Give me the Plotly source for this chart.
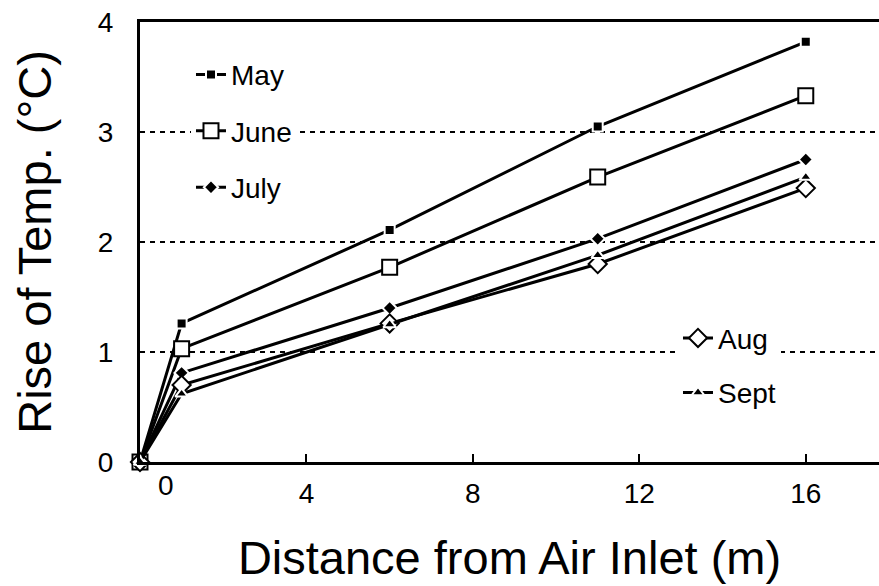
import plotly.graph_objects as go

distance = [0, 1, 6, 11, 16]
may = [0, 1.26, 2.11, 3.05, 3.82]
june = [0, 1.03, 1.77, 2.59, 3.33]
july = [0, 0.81, 1.40, 2.03, 2.75]
aug = [0, 0.70, 1.26, 1.80, 2.49]
sept = [0, 0.62, 1.25, 1.88, 2.59]

x_ticks = [4, 8, 12, 16]
y_ticks = [0, 1, 2, 3, 4]

series = [
    ("May", may, "square", "black", 10, "legend"),
    ("June", june, "square", "white", 15, "legend"),
    ("July", july, "diamond", "black", 11, "legend"),
    ("Aug", aug, "diamond", "white", 14, "legend2"),
    ("Sept", sept, "triangle-up", "black", 11, "legend2"),
]

fig = go.Figure()
for name, vals, sym, fill, size, leg in series:
    line_col = "white" if fill == "black" else "black"
    fig.add_trace(go.Scatter(
        x=distance, y=vals, name=name, mode="lines+markers",
        line=dict(color="black", width=3),
        marker=dict(symbol=sym, size=size, color=fill,
                    line=dict(color=line_col, width=2)),
        cliponaxis=False, legend=leg, legendgroup=name,
    ))

font = "Liberation Sans, Arial, sans-serif"
fig.update_layout(
    width=879, height=586,
    margin=dict(l=140, r=0, t=22, b=124),
    paper_bgcolor="white", plot_bgcolor="white",
    font=dict(family=font, size=28, color="black"),
    xaxis=dict(range=[0, 17.76], tickvals=x_ticks, ticks="inside", ticklen=8,
               tickwidth=2, tickcolor="black", showgrid=False, zeroline=False,
               showline=True, linecolor="black", linewidth=3, mirror=True,
               title=dict(text="Distance from Air Inlet (m)", font=dict(size=47), standoff=34),
               ticklabelstandoff=4),
    yaxis=dict(range=[0, 4], tickvals=y_ticks, ticks="", showgrid=True,
               gridcolor="black", gridwidth=2, griddash="5px,5px", zeroline=False,
               showline=True, linecolor="black", linewidth=3,
               title=dict(text="Rise of Temp. (°C)", font=dict(size=47), standoff=32),
               ticklabelstandoff=18),
    legend=dict(x=0.069, y=0.937, xanchor="left", yanchor="top", bgcolor="white",
                tracegroupgap=17, font=dict(size=28)),
    legend2=dict(x=0.728, y=0.338, xanchor="left", yanchor="top", bgcolor="white",
                 tracegroupgap=15, font=dict(size=28)),
    showlegend=True,
)
fig.add_annotation(x=0.62, y=0, yref="paper", yshift=-6, text="0", showarrow=False,
                   yanchor="top", font=dict(size=28, family=font))
fig.write_html("out.html")
